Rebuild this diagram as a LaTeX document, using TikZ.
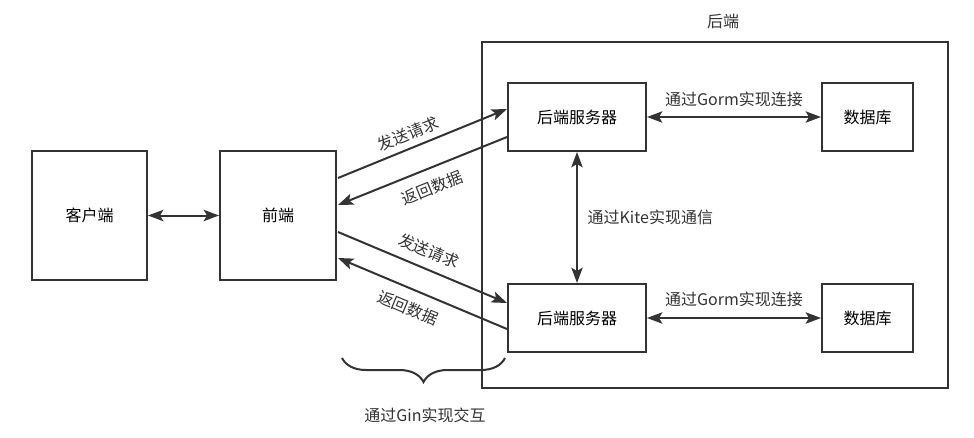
\documentclass[tikz,border=0pt]{standalone}
\usepackage{fontspec}
\setmainfont{Noto Sans CJK SC}
\usetikzlibrary{arrows.meta,calc,decorations.pathreplacing}
\definecolor{lc}{HTML}{333333}
\definecolor{tc}{HTML}{333333}
\tikzset{
  box/.style={draw=lc, line width=1.5pt, fill=white, inner sep=0pt},
  arr/.style={draw=lc, line width=1.5pt, -{Stealth[length=11.5pt,width=8.5pt,inset=2.5pt]}},
  darr/.style={draw=lc, line width=1.5pt, {Stealth[length=11.5pt,width=8.5pt,inset=2.5pt]}-{Stealth[length=11.5pt,width=8.5pt,inset=2.5pt]}},
  lbl/.style={text=tc, inner sep=1pt},
}
\begin{document}
\begin{tikzpicture}[x=0.75pt, y=-0.75pt, font=\fontsize{12}{14}\selectfont]
\useasboundingbox (0,0) rectangle (974,437);

% backend container
\node[box, fill=none, minimum width=349.5pt, minimum height=259.5pt] (be) at (715,215) {};
\node[lbl] (belbl) at (723,21) {后端};

% boxes
\node[box, minimum width=86.25pt, minimum height=96.75pt] (cl) at (89.5,215.5) {客户端};
\node[box, minimum width=87pt, minimum height=96.75pt] (fe) at (278,215.5) {前端};
\node[box, minimum width=103.5pt, minimum height=51pt] (s1) at (577,117) {后端服务器};
\node[box, minimum width=68.25pt, minimum height=51pt] (d1) at (867.5,117) {数据库};
\node[box, minimum width=103.5pt, minimum height=51pt] (s2) at (577,318) {后端服务器};
\node[box, minimum width=68.25pt, minimum height=51pt] (d2) at (867.5,318) {数据库};

% client <-> frontend
\draw[darr] (cl.east) -- (fe.west);

% frontend <-> servers
\draw[arr] ($(fe.east)+(1,-37.5)$) -- ($(s1.west)+(0,-8)$);
\draw[arr] ($(s1.west)+(0,20)$) -- ($(fe.east)+(1,-10.5)$);
\draw[arr] ($(fe.east)+(1,16.5)$) -- ($(s2.west)+(0,-15)$);
\draw[arr] ($(s2.west)+(0,11)$) -- ($(fe.east)+(1,42.5)$);
\node[lbl, rotate=22] (req1) at (408,134) {发送请求};
\node[lbl, rotate=22] (ret1) at (432,188) {返回数据};
\node[lbl, rotate=-22.5] (req2) at (429,251) {发送请求};
\node[lbl, rotate=-22.5] (ret2) at (408,308) {返回数据};

% server <-> server
\draw[darr] (s1.south) -- (s2.north);
\node[lbl, anchor=west] (kite) at (586,217) {通过Kite实现通信};

% servers <-> databases
\draw[darr] (s1.east) -- (d1.west);
\draw[darr] (s2.east) -- (d2.west);
\node[lbl] (gorm1) at (734,99) {通过Gorm实现连接};
\node[lbl] (gorm2) at (734,299) {通过Gorm实现连接};

% Gin brace
\coordinate (bl) at (342,358);
\coordinate (br) at (505,358);
\draw[lc, line width=1.5pt, decorate, decoration={brace, mirror, amplitude=18pt}] (bl) -- (br);
\node[lbl] (gin) at (425,415) {通过Gin实现交互};
\end{tikzpicture}
\end{document}
